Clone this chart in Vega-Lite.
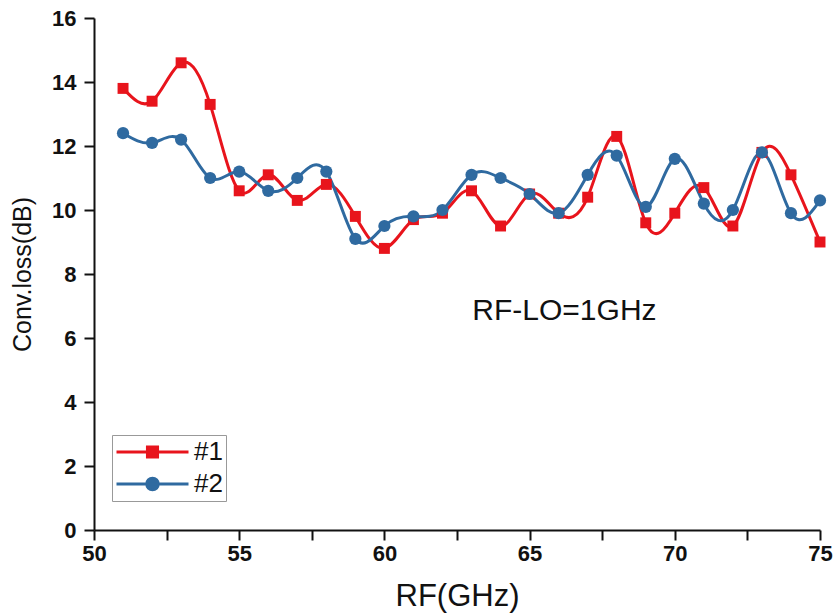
{
  "$schema": "https://vega.github.io/schema/vega-lite/v6.json",
  "autosize": "none",
  "width": 726,
  "height": 512,
  "padding": {"left": 94, "top": 18, "right": 14, "bottom": 86},
  "background": "white",
  "config": {"view": {"stroke": null}, "font": "Liberation Sans"},
  "datasets": {
    "curves": [
      {"rf": 51, "loss": 13.8, "s": "#1"}, {"rf": 52, "loss": 13.4, "s": "#1"}, {"rf": 53, "loss": 14.6, "s": "#1"},
      {"rf": 54, "loss": 13.3, "s": "#1"}, {"rf": 55, "loss": 10.6, "s": "#1"}, {"rf": 56, "loss": 11.1, "s": "#1"},
      {"rf": 57, "loss": 10.3, "s": "#1"}, {"rf": 58, "loss": 10.8, "s": "#1"}, {"rf": 59, "loss": 9.8, "s": "#1"},
      {"rf": 60, "loss": 8.8, "s": "#1"}, {"rf": 61, "loss": 9.7, "s": "#1"}, {"rf": 62, "loss": 9.9, "s": "#1"},
      {"rf": 63, "loss": 10.6, "s": "#1"}, {"rf": 64, "loss": 9.5, "s": "#1"}, {"rf": 65, "loss": 10.5, "s": "#1"},
      {"rf": 66, "loss": 9.9, "s": "#1"}, {"rf": 67, "loss": 10.4, "s": "#1"}, {"rf": 68, "loss": 12.3, "s": "#1"},
      {"rf": 69, "loss": 9.6, "s": "#1"}, {"rf": 70, "loss": 9.9, "s": "#1"}, {"rf": 71, "loss": 10.7, "s": "#1"},
      {"rf": 72, "loss": 9.5, "s": "#1"}, {"rf": 73, "loss": 11.8, "s": "#1"}, {"rf": 74, "loss": 11.1, "s": "#1"},
      {"rf": 75, "loss": 9.0, "s": "#1"},
      {"rf": 51, "loss": 12.4, "s": "#2"}, {"rf": 52, "loss": 12.1, "s": "#2"}, {"rf": 53, "loss": 12.2, "s": "#2"},
      {"rf": 54, "loss": 11.0, "s": "#2"}, {"rf": 55, "loss": 11.2, "s": "#2"}, {"rf": 56, "loss": 10.6, "s": "#2"},
      {"rf": 57, "loss": 11.0, "s": "#2"}, {"rf": 58, "loss": 11.2, "s": "#2"}, {"rf": 59, "loss": 9.1, "s": "#2"},
      {"rf": 60, "loss": 9.5, "s": "#2"}, {"rf": 61, "loss": 9.8, "s": "#2"}, {"rf": 62, "loss": 10.0, "s": "#2"},
      {"rf": 63, "loss": 11.1, "s": "#2"}, {"rf": 64, "loss": 11.0, "s": "#2"}, {"rf": 65, "loss": 10.5, "s": "#2"},
      {"rf": 66, "loss": 9.9, "s": "#2"}, {"rf": 67, "loss": 11.1, "s": "#2"}, {"rf": 68, "loss": 11.7, "s": "#2"},
      {"rf": 69, "loss": 10.1, "s": "#2"}, {"rf": 70, "loss": 11.6, "s": "#2"}, {"rf": 71, "loss": 10.2, "s": "#2"},
      {"rf": 72, "loss": 10.0, "s": "#2"}, {"rf": 73, "loss": 11.8, "s": "#2"}, {"rf": 74, "loss": 9.9, "s": "#2"},
      {"rf": 75, "loss": 10.3, "s": "#2"}
    ],
    "note": [{"rf": 66.2, "loss": 6.85, "label": "RF-LO=1GHz"}]
  },
  "layer": [
    {
      "data": {"name": "curves"},
      "mark": {"type": "line", "interpolate": "natural", "strokeWidth": 3, "clip": true},
      "encoding": {
        "x": {
          "field": "rf", "type": "quantitative",
          "scale": {"domain": [50, 75], "nice": false, "zero": false},
          "axis": {
            "title": "RF(GHz)", "titleFontSize": 31, "titleFontWeight": "normal", "titleColor": "#111111",
            "titlePadding": 17, "titleFont": "Liberation Sans",
            "values": [50, 52.5, 55, 57.5, 60, 62.5, 65, 67.5, 70, 72.5, 75],
            "labelExpr": "datum.value % 5 === 0 ? datum.label : ''",
            "labelFontSize": 22, "labelFontWeight": "bold", "labelColor": "#111111", "labelPadding": 3,
            "grid": false, "domainColor": "#111111", "domainWidth": 2, "tickColor": "#111111", "tickWidth": 2, "tickSize": 10,
            "labelFlush": false,
            "encode": {"ticks": {"update": {"y2": {"signal": "datum.value % 5 === 0 ? 10 : 6"}}}}
          }
        },
        "y": {
          "field": "loss", "type": "quantitative",
          "scale": {"domain": [0, 16], "nice": false},
          "axis": {
            "title": "Conv.loss(dB)", "titleFontSize": 25, "titleFontWeight": "normal", "titleColor": "#111111",
            "titlePadding": 16, "titleFont": "Liberation Sans",
            "values": [0, 1, 2, 3, 4, 5, 6, 7, 8, 9, 10, 11, 12, 13, 14, 15, 16],
            "labelExpr": "datum.value % 2 === 0 ? datum.label : ''",
            "labelFontSize": 22, "labelFontWeight": "bold", "labelColor": "#111111", "labelPadding": 8,
            "grid": false, "domainColor": "#111111", "domainWidth": 2, "tickColor": "#111111", "tickWidth": 2, "tickSize": 10,
            "labelFlush": false,
            "encode": {"ticks": {"update": {"x2": {"signal": "datum.value % 2 === 0 ? -10 : -6"}}}}
          }
        },
        "color": {
          "field": "s", "type": "nominal",
          "scale": {"domain": ["#1", "#2"], "range": ["#e8141c", "#2f6aa0"]},
          "legend": {
            "orient": "none", "legendX": 18, "legendY": 417, "title": null,
            "labelFontSize": 26, "labelColor": "#111111", "labelFont": "Liberation Sans", "labelOffset": 4,
            "strokeColor": "#999999", "padding": 3, "rowPadding": 4, "symbolSize": 5184, "symbolStrokeWidth": 3,
            "clipHeight": 28,
            "encode": {
              "symbols": {
                "update": {
                  "shape": [
                    {"test": "datum.value === '#1'", "value": "M-1,0H1M-0.14,-0.14H0.14V0.14H-0.14Z"},
                    {"value": "M-1,0H1M0.16,0A0.16,0.16 0 1,1 -0.16,0A0.16,0.16 0 1,1 0.16,0Z"}
                  ],
                  "fill": [{"test": "datum.value === '#1'", "value": "#e8141c"}, {"value": "#2f6aa0"}],
                  "stroke": [{"test": "datum.value === '#1'", "value": "#e8141c"}, {"value": "#2f6aa0"}],
                  "opacity": {"value": 1}
                }
              }
            }
          }
        }
      }
    },
    {
      "data": {"name": "curves"},
      "transform": [{"filter": "datum.s === '#1'"}],
      "mark": {"type": "point", "shape": "square", "filled": true, "opacity": 1, "size": 120},
      "encoding": {
        "x": {"field": "rf", "type": "quantitative"},
        "y": {"field": "loss", "type": "quantitative"},
        "color": {"field": "s", "type": "nominal"}
      }
    },
    {
      "data": {"name": "curves"},
      "transform": [{"filter": "datum.s === '#2'"}],
      "mark": {"type": "point", "shape": "circle", "filled": true, "opacity": 1, "size": 150},
      "encoding": {
        "x": {"field": "rf", "type": "quantitative"},
        "y": {"field": "loss", "type": "quantitative"},
        "color": {"field": "s", "type": "nominal"}
      }
    },
    {
      "data": {"name": "note"},
      "mark": {"type": "text", "fontSize": 30, "font": "Liberation Sans", "color": "#111111", "align": "center", "baseline": "middle"},
      "encoding": {
        "x": {"field": "rf", "type": "quantitative"},
        "y": {"field": "loss", "type": "quantitative"},
        "text": {"field": "label"}
      }
    }
  ]
}
